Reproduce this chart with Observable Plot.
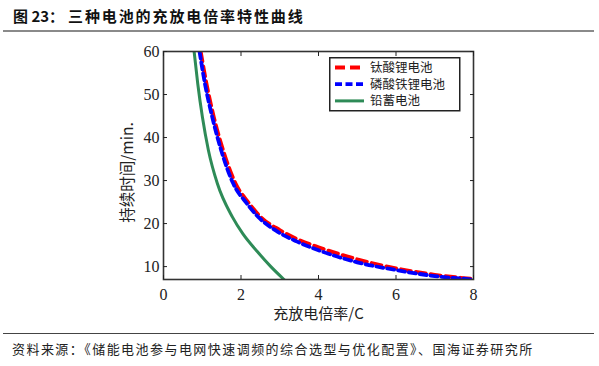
<!DOCTYPE html>
<html>
<head>
<meta charset="utf-8">
<script src="https://cdn.jsdelivr.net/npm/d3@7"></script>
<script src="https://cdn.jsdelivr.net/npm/@observablehq/plot@0.6"></script>
<style>
  html, body { margin: 0; padding: 0; background: #fff; }
  #wrap { position: relative; width: 599px; height: 366px; overflow: hidden; font-family: "Noto Sans CJK SC", sans-serif; }
  #title { position: absolute; left: 13px; top: 5px; font-size: 15px; font-weight: bold; color: #111; white-space: nowrap; }
  #title .t2 { position: absolute; left: 55px; top: 0; letter-spacing: 1.9px; }
  #topline { position: absolute; left: 3px; top: 30px; width: 591px; height: 2px; background: #8a8a8a; }
  #chart { position: absolute; left: 0; top: 36px; }
  #botline { position: absolute; left: 3px; top: 333px; width: 591px; height: 1px; background: #444; }
  #source { position: absolute; left: 12px; top: 339px; font-size: 13px; letter-spacing: 1.45px; color: #222; white-space: nowrap; }
  #legend { position: absolute; left: 329px; top: 57px; }
</style>
</head>
<body>
<div id="wrap">
  <div id="title"><span>图 23：</span><span class="t2">三种电池的充放电倍率特性曲线</span></div>
  <div id="topline"></div>
  <div id="chart"></div>
  <div id="botline"></div>
  <div id="source">资料来源：《储能电池参与电网快速调频的综合选型与优化配置》、国海证券研究所</div>
  <svg id="legend" width="132" height="55"></svg>
</div>
<script>
// Data
const seriesNames = ["钛酸锂电池", "磷酸铁锂电池", "铅蓄电池"];
const seriesColors = ["#ff0000", "#0000ff", "#2e8b57"];

const ltoRate = [0.96, 1.11, 1.30, 1.54, 1.86, 2.2, 2.51, 3.0, 3.5, 4.0, 5.0, 6.0, 7.0, 8.0];
const ltoTime = [60, 52.5, 44.7, 37, 29.3, 24.8, 21.5, 18.5, 16.2, 14.5, 11.7, 9.6, 8.1, 7.1];

const lfpRate = [0.93, 1.07, 1.26, 1.49, 1.8, 2.14, 2.45, 2.93, 3.45, 4.0, 5.0, 6.0, 7.0, 8.0];
const lfpTime = [60, 52.5, 44.7, 37, 29.3, 24.8, 21.5, 18.2, 15.8, 13.8, 11.0, 9.2, 7.8, 7.0];

const leadRate = [0.79, 0.884, 1.005, 1.16, 1.39, 1.78, 2.05, 2.42, 2.77, 3.11];
const leadTime = [60, 52.5, 44.7, 37, 29.3, 21.5, 17.6, 13.5, 10, 7.0];

const xTicks = [0, 2, 4, 6, 8];
const yTicks = [10, 20, 30, 40, 50, 60];

const toRows = (rs, ts) => rs.map((r, i) => ({rate: r, time: ts[i]}));
const lto = toRows(ltoRate, ltoTime);
const lfp = toRows(lfpRate, lfpTime);
const lead = toRows(leadRate, leadTime);

const serif = "Liberation Serif";

const chart = Plot.plot({
  width: 599,
  height: 290,
  marginLeft: 163,
  marginRight: 126,
  marginTop: 15,
  marginBottom: 47,
  x: {domain: [0, 8]},
  y: {domain: [7, 60]},
  style: {fontFamily: serif, fontSize: "16px", color: "#222", background: "transparent"},
  marks: [
    Plot.line(lto, {x: "rate", y: "time", stroke: seriesColors[0], strokeWidth: 3.8, strokeDasharray: "10,5", curve: "monotone-x", clip: true}),
    Plot.line(lfp, {x: "rate", y: "time", stroke: seriesColors[1], strokeWidth: 3.8, strokeDasharray: "7,4", curve: "monotone-x", clip: true}),
    Plot.line(lead, {x: "rate", y: "time", stroke: seriesColors[2], strokeWidth: 3, curve: "monotone-x", clip: true}),
    Plot.frame({stroke: "#333", strokeWidth: 1.6}),
    Plot.axisX({anchor: "bottom", ticks: xTicks, tickSize: -4, tickPadding: 13, label: null, fontFamily: serif, fontSize: 16}),
    Plot.axisX({anchor: "top", ticks: xTicks, tickSize: -4, tickFormat: () => "", label: null}),
    Plot.axisY({anchor: "left", ticks: yTicks, tickSize: -4, tickPadding: 8, label: null, fontFamily: serif, fontSize: 16}),
    Plot.axisY({anchor: "right", ticks: yTicks, tickSize: -4, tickFormat: () => "", label: null}),
    Plot.text(["充放电倍率/C"], {frameAnchor: "bottom", dy: 39, fontFamily: "Noto Sans CJK SC", fontSize: 15, fill: "#222"}),
    Plot.text(["持续时间/min."], {frameAnchor: "left", dx: -35, dy: 7, rotate: -90, textAnchor: "middle", fontFamily: "Noto Sans CJK SC", fontSize: 15.5, fill: "#222"})
  ]
});
document.getElementById("chart").appendChild(chart);

// Legend
const leg = d3.select("#legend");
leg.append("rect").attr("x", 0.75).attr("y", 0.75).attr("width", 130).attr("height", 53)
  .attr("fill", "#fff").attr("stroke", "#222").attr("stroke-width", 1.5);
const dashes = ["10,5", "7,3.5", null];
const widths = [3.8, 3.8, 3];
seriesNames.forEach((name, i) => {
  const y = 10.5 + i * 16.7;
  const l = leg.append("line").attr("x1", 6).attr("x2", 35).attr("y1", y).attr("y2", y)
    .attr("stroke", seriesColors[i]).attr("stroke-width", widths[i]);
  if (dashes[i]) l.attr("stroke-dasharray", dashes[i]);
  leg.append("text").attr("x", 41).attr("y", y).attr("dy", "0.35em")
    .attr("font-family", "Noto Sans CJK SC").attr("font-size", 12.5).attr("fill", "#222").text(name);
});
</script>
</body>
</html>
